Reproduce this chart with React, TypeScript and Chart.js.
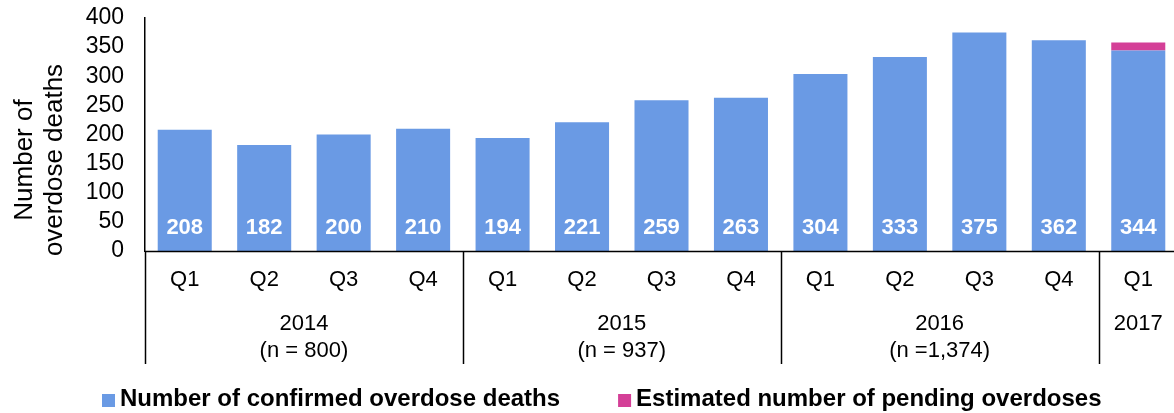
import React, { useEffect, useRef } from "react";
import { Chart, registerables } from "chart.js";

Chart.register(...registerables);

const quarters = ["Q1", "Q2", "Q3", "Q4", "Q1", "Q2", "Q3", "Q4", "Q1", "Q2", "Q3", "Q4", "Q1"];
const years = ["2014", "2015", "2016", "2017"];
const yearNotes = ["(n = 800)", "(n = 937)", "(n =1,374)", ""];
const yearSpans = [4, 4, 4, 1];
const confirmed = [208, 182, 200, 210, 194, 221, 259, 263, 304, 333, 375, 362, 344];
const pending = [0, 0, 0, 0, 0, 0, 0, 0, 0, 0, 0, 0, 14];
const seriesNames = ["Number of confirmed overdose deaths", "Estimated number of pending overdoses"];
const seriesColors = ["#6A9AE4", "#D43F97"];
const yTitle = ["Number of", "overdose deaths"];

const FONT = "'Liberation Sans', Arial, sans-serif";

const overlay = {
  id: "overlay",
  afterDraw(chart: any) {
    const ctx = chart.ctx as CanvasRenderingContext2D;
    const xs = chart.scales.x;
    const ys = chart.scales.y;
    const area = chart.chartArea;
    const base = ys.getPixelForValue(0);
    ctx.save();

    // value labels
    ctx.fillStyle = "#fff";
    ctx.font = `bold 22px ${FONT}`;
    ctx.textAlign = "center";
    ctx.textBaseline = "middle";
    confirmed.forEach((v, i) => {
      ctx.fillText(String(v), xs.getPixelForValue(i), base - 23);
    });

    // x axis line
    ctx.strokeStyle = "#000";
    ctx.lineWidth = 1.5;
    ctx.beginPath();
    ctx.moveTo(area.left, Math.round(base) + 0.5);
    ctx.lineTo(chart.width, Math.round(base) + 0.5);
    ctx.stroke();

    // quarter labels
    ctx.fillStyle = "#000";
    ctx.font = `22px ${FONT}`;
    quarters.forEach((q, i) => {
      ctx.fillText(q, xs.getPixelForValue(i), base + 29);
    });

    // year groups + dividers
    const half = (xs.getPixelForValue(1) - xs.getPixelForValue(0)) / 2;
    let start = 0;
    const dividerBottom = base + 113;
    ctx.beginPath();
    ctx.moveTo(area.left + 0.5, base);
    ctx.lineTo(area.left + 0.5, dividerBottom);
    ctx.stroke();
    years.forEach((y, gi) => {
      const end = start + yearSpans[gi] - 1;
      const x0 = xs.getPixelForValue(start) - half;
      const x1 = xs.getPixelForValue(end) + half;
      const cx = (x0 + x1) / 2;
      ctx.fillText(y, cx, base + 73);
      if (yearNotes[gi]) ctx.fillText(yearNotes[gi], cx, base + 100);
      if (gi < years.length - 1) {
        const dx = Math.round(x1) + 0.5;
        ctx.beginPath();
        ctx.moveTo(dx, base);
        ctx.lineTo(dx, dividerBottom);
        ctx.stroke();
      }
      start = end + 1;
    });

    // y title
    ctx.font = `26px ${FONT}`;
    ctx.textBaseline = "alphabetic";
    [32, 62].forEach((bx, i) => {
      ctx.save();
      ctx.translate(bx, 160);
      ctx.rotate(-Math.PI / 2);
      ctx.fillText(yTitle[i], 0, 0);
      ctx.restore();
    });

    // legend
    ctx.font = `bold 24px ${FONT}`;
    ctx.textAlign = "left";
    ctx.textBaseline = "alphabetic";
    let lx = 102;
    chart.data.datasets.forEach((ds: any) => {
      ctx.fillStyle = ds.backgroundColor;
      ctx.fillRect(lx, 394, 13, 13);
      ctx.fillStyle = "#000";
      ctx.fillText(ds.label, lx + 18, 406);
      lx = lx + 18 + ctx.measureText(ds.label).width + 58;
    });

    ctx.restore();
  },
};

export default function App() {
  const ref = useRef<HTMLCanvasElement>(null);
  useEffect(() => {
    document.body.style.margin = "0";
    const chart = new Chart(ref.current!, {
      type: "bar",
      data: {
        labels: quarters,
        datasets: [
          { label: seriesNames[0], data: confirmed, backgroundColor: seriesColors[0] },
          { label: seriesNames[1], data: pending, backgroundColor: seriesColors[1] },
        ],
      },
      options: {
        responsive: false,
        animation: false,
        layout: { padding: { top: 18, bottom: 162, left: 0, right: 0 } },
        datasets: { bar: { categoryPercentage: 1, barPercentage: 0.68 } },
        plugins: { legend: { display: false }, tooltip: { enabled: false } },
        scales: {
          x: { stacked: true, display: false },
          y: {
            stacked: true,
            min: 0,
            max: 400,
            ticks: {
              stepSize: 50,
              autoSkip: false,
              color: "#000",
              padding: 13,
              font: { family: FONT, size: 23 },
            },
            grid: { display: false },
            border: { display: true, color: "#000", width: 1.5 },
            afterFit: (s: any) => {
              s.width = 145;
              s.paddingTop = 0;
              s.paddingBottom = 0;
            },
          },
        },
      },
      plugins: [overlay],
    });
    return () => chart.destroy();
  }, []);
  return (
    <div style={{ position: "absolute", left: 0, top: 0, width: 1174, height: 413, overflow: "hidden", background: "#fff" }}>
      <canvas ref={ref} width={1178} height={413} style={{ display: "block" }} />
    </div>
  );
}
